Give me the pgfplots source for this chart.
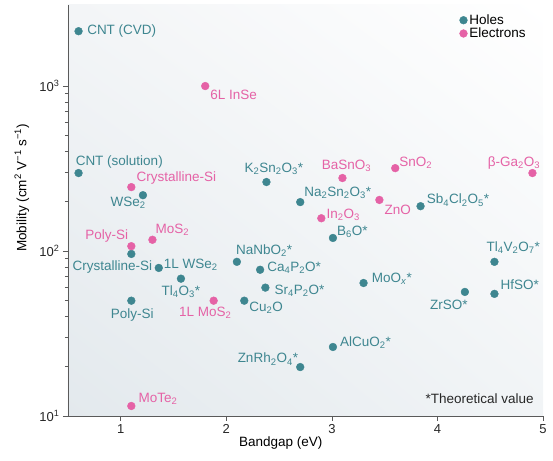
\documentclass[border=0pt]{standalone}
\usepackage{pgfplots}
\pgfplotsset{compat=1.18}
\usetikzlibrary{shadings}
\usepackage{fontspec}
\setmainfont{Liberation Sans}
\definecolor{hole}{RGB}{62,134,144}
\definecolor{elec}{RGB}{229,98,166}
\definecolor{bgll}{RGB}{227,233,237}
\definecolor{bgul}{RGB}{243,245,247}
\definecolor{bglr}{RGB}{241,244,246}
\definecolor{axc}{RGB}{90,90,90}
\newcommand{\lf}{\fontsize{13.5bp}{16bp}\selectfont}
\newcommand{\tf}{\fontsize{13bp}{15bp}\selectfont}
\newcommand{\sub}[1]{\textsubscript{#1}}
\begin{document}
\begin{tikzpicture}[
  hl/.style={text=hole, font=\lf, inner sep=0pt},
  el/.style={text=elec, font=\lf, inner sep=0pt}]
\useasboundingbox (-68bp,-45bp) rectangle (485bp,416bp);
\begin{axis}[
  scale only axis, width=475bp, height=411bp,
  ymode=log, xmin=0.5, xmax=5, ymin=10, ymax=3100,
  axis x line*=bottom, axis y line*=left,
  axis line style={axc, line width=0.6bp},
  every tick/.style={axc, line width=0.6bp},
  tick align=outside,
  major tick length=5bp, minor tick length=3bp,
  xtick={1,2,3,4,5}, xticklabels={1,2,3,4,5},
  ytick={10,100,1000}, yticklabels={10\textsuperscript{1},10\textsuperscript{2},10\textsuperscript{3}},
  ticklabel style={font=\tf, text=black!85},
  axis background/.style={shade, lower left=bgll, upper left=bgul, lower right=bglr, upper right=white},
  every axis x label/.style={at={(axis description cs:0.448,-0.066)}, anchor=center, font=\lf},
  every axis y label/.style={at={(axis description cs:-0.097,0.555)}, anchor=center, rotate=90, font=\lf},
  xlabel={Bandgap (eV)},
  ylabel={Mobility (cm\textsuperscript{2} V\textsuperscript{−1} s\textsuperscript{−1})},
  clip=false,
  legend style={at={(axis description cs:0.824,0.982)}, anchor=north west, draw=none, fill=none, font=\lf, row sep=-2bp, inner sep=0pt},
  legend cell align=left,
  legend image code/.code={\draw[#1] plot coordinates {(0bp,0bp)};},
]
\addplot[only marks, mark=*, mark size=3.9bp, color=hole, mark options={draw=hole, fill=hole}] coordinates {
(0.60,2150) (0.60,297) (1.21,218) (1.10,96) (1.36,79) (1.57,68) (1.10,50)
(2.10,86) (2.32,77) (2.37,60) (2.17,50) (2.38,262) (2.70,198) (3.01,120)
(3.30,64) (3.01,26.2) (2.70,19.8) (3.84,187) (4.54,86) (4.54,55) (4.26,56.5)
};
\addlegendentry{Holes}
\addplot[only marks, mark=*, mark size=3.9bp, color=elec, mark options={draw=elec, fill=elec}] coordinates {
(1.80,1000) (1.10,244) (1.10,107) (1.30,117) (1.88,50) (1.10,11.5)
(3.10,277) (3.60,318) (3.45,204) (2.90,158) (4.90,297)
};
\addlegendentry{Electrons}
% hole labels
\node[hl, anchor=west, xshift=8.5bp] at (axis cs:0.60,2150) {CNT (CVD)};
\node[hl, anchor=west, xshift=-3bp, yshift=11bp] at (axis cs:0.60,297) {CNT (solution)};
\node[hl, anchor=east, xshift=3bp, yshift=-8bp] at (axis cs:1.21,218) {WSe\sub{2}};
\node[hl, anchor=east, xshift=21bp, yshift=-13bp] at (axis cs:1.10,96) {Crystalline-Si};
\node[hl, anchor=west, xshift=5bp, yshift=3bp] at (axis cs:1.36,79) {1L WSe\sub{2}};
\node[hl, anchor=center, yshift=-13bp] at (axis cs:1.57,68) {Tl\sub{4}O\sub{3}*};
\node[hl, anchor=center, xshift=1bp, yshift=-14bp] at (axis cs:1.10,50) {Poly-Si};
\node[hl, anchor=west, xshift=-1bp, yshift=11bp] at (axis cs:2.10,86) {NaNbO\sub{2}*};
\node[hl, anchor=west, xshift=7bp, yshift=2bp] at (axis cs:2.32,77) {Ca\sub{4}P\sub{2}O*};
\node[hl, anchor=west, xshift=9bp, yshift=-3bp] at (axis cs:2.37,60) {Sr\sub{4}P\sub{2}O*};
\node[hl, anchor=west, xshift=5bp, yshift=-7bp] at (axis cs:2.17,50) {Cu\sub{2}O};
\node[hl, anchor=center, xshift=7.5bp, yshift=13bp] at (axis cs:2.38,262) {K\sub{2}Sn\sub{2}O\sub{3}*};
\node[hl, anchor=west, xshift=4bp, yshift=9bp] at (axis cs:2.70,198) {Na\sub{2}Sn\sub{2}O\sub{3}*};
\node[hl, anchor=west, xshift=4bp, yshift=6bp] at (axis cs:3.01,120) {B\sub{6}O*};
\node[hl, anchor=west, xshift=8bp, yshift=4bp] at (axis cs:3.30,64) {MoO\sub{\textit{x}}*};
\node[hl, anchor=west, xshift=7bp, yshift=4bp] at (axis cs:3.01,26.2) {AlCuO\sub{2}*};
\node[hl, anchor=east, xshift=-2bp, yshift=8bp] at (axis cs:2.70,19.8) {ZnRh\sub{2}O\sub{4}*};
\node[hl, anchor=west, xshift=6bp, yshift=6bp] at (axis cs:3.84,187) {Sb\sub{4}Cl\sub{2}O\sub{5}*};
\node[hl, anchor=west, xshift=-8bp, yshift=14bp] at (axis cs:4.54,86) {Tl\sub{4}V\sub{2}O\sub{7}*};
\node[hl, anchor=west, xshift=6bp, yshift=9bp] at (axis cs:4.54,55) {HfSO*};
\node[hl, anchor=east, xshift=3bp, yshift=-13bp] at (axis cs:4.26,56.5) {ZrSO*};
% electron labels
\node[el, anchor=west, xshift=5bp, yshift=-9bp] at (axis cs:1.80,1000) {6L InSe};
\node[el, anchor=west, xshift=5bp, yshift=9bp] at (axis cs:1.10,244) {Crystalline-Si};
\node[el, anchor=east, xshift=-3bp, yshift=10bp] at (axis cs:1.10,107) {Poly-Si};
\node[el, anchor=west, xshift=3bp, yshift=10bp] at (axis cs:1.30,117) {MoS\sub{2}};
\node[el, anchor=center, xshift=-8.5bp, yshift=-12bp] at (axis cs:1.88,50) {1L MoS\sub{2}};
\node[el, anchor=west, xshift=7bp, yshift=7bp] at (axis cs:1.10,11.5) {MoTe\sub{2}};
\node[el, anchor=center, xshift=4bp, yshift=12bp] at (axis cs:3.10,277) {BaSnO\sub{3}};
\node[el, anchor=west, xshift=4bp, yshift=5bp] at (axis cs:3.60,318) {SnO\sub{2}};
\node[el, anchor=west, xshift=5bp, yshift=-10bp] at (axis cs:3.45,204) {ZnO};
\node[el, anchor=west, xshift=5bp, yshift=3bp] at (axis cs:2.90,158) {In\sub{2}O\sub{3}};
\node[el, anchor=east, xshift=8bp, yshift=10bp] at (axis cs:4.90,297) {β-Ga\sub{2}O\sub{3}};
\node[anchor=east, font=\lf, text=black!85, inner sep=0pt] at (axis description cs:0.981,0.041) {*Theoretical value};
\end{axis}
\end{tikzpicture}
\end{document}
